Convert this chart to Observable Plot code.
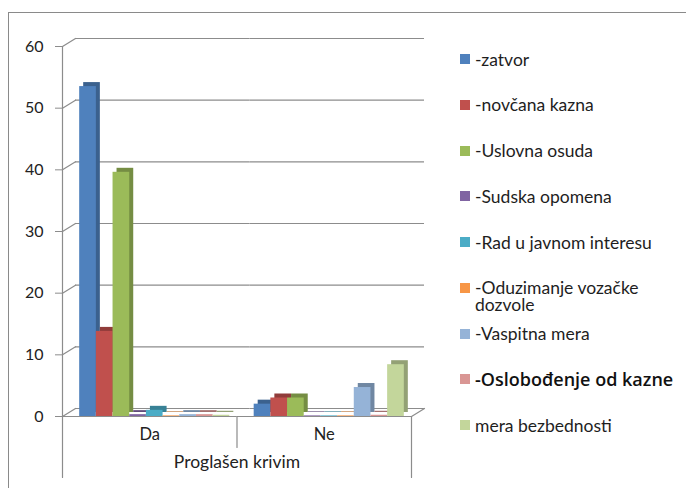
<!DOCTYPE html>
<html><head><meta charset="utf-8">
<script src="https://cdn.jsdelivr.net/npm/d3@7"></script>
<script src="https://cdn.jsdelivr.net/npm/@observablehq/plot@0.6"></script>
<style>
body{margin:0;background:#fff;font-family:Lato,sans-serif;}
#wrap{position:relative;width:686px;height:488px;overflow:hidden;background:#fff;}
#border{position:absolute;left:8px;top:12px;width:800px;height:600px;border:1px solid #8a8a8a;}
#chart{position:absolute;left:0;top:0;}
#legend{position:absolute;left:460px;top:50.5px;}
.item{height:45.75px;display:flex;align-items:flex-start;font-size:17.5px;line-height:17px;color:#1e1e1e;}
.item .t{max-width:185px;}
.item.special .t{font-family:"Open Sans";font-size:18px;font-weight:600;max-width:none;white-space:nowrap;color:#111;}
.sw{width:10px;height:10px;margin-top:3.5px;margin-right:5px;flex:none}
</style></head><body><div id="wrap"><div id="border"></div><div id="chart"></div><div id="legend"></div></div>
<script>
const categories = ["Da", "Ne"];
const groupLabel = "Proglašen krivim";
const series = ["-zatvor", "-novčana kazna", "-Uslovna osuda", "-Sudska opomena", "-Rad u javnom interesu", "-Oduzimanje vozačke dozvole", "-Vaspitna mera", "-Oslobođenje od kazne", "mera bezbednosti"];
const valuesDa = [53.5, 13.8, 39.6, 0.3, 1, 0.1, 0.3, 0.3, 0.2];
const valuesNe = [2, 3, 3, 0.1, 0.1, 0.1, 4.7, 0.2, 8.4];
const colors = ["#4F81BD", "#C0504D", "#9BBB59", "#8064A2", "#4BACC6", "#F79646", "#95B3D7", "#D99694", "#C3D69B"];
const yTicks = [0, 10, 20, 30, 40, 50, 60];

const valuesByCat = [valuesDa, valuesNe];
const data = [];
categories.forEach((c, ci) => series.forEach((s, si) => data.push({cat: c, s, v: valuesByCat[ci][si], c: colors[si], d: d3.color(colors[si]).darker(0.8).formatHex()})));

const W = 686, H = 488, mL = 62, mR = 275, mT = 46, mB = 72;
const grid = "#8c8c8c";
const depthX = 13, depthY = 8;
const diagLen = Math.hypot(depthX, depthY), diagRot = Math.atan2(depthX, depthY) * 180 / Math.PI;
const first = categories[0], last = categories[categories.length - 1];

const chart = Plot.plot({
  width: W, height: H, marginLeft: mL, marginRight: mR, marginTop: mT, marginBottom: mB,
  style: {fontFamily: "Lato", fontSize: "16px", color: "#222", background: "transparent", overflow: "visible"},
  fx: {domain: categories, padding: 0, round: false, axis: null},
  x: {domain: series, paddingInner: 0, paddingOuter: 0.73, round: false, axis: null},
  y: {domain: [0, 60], axis: null},
  marks: [
    Plot.ruleY(yTicks, {y: d => d, dx: depthX, dy: -depthY, stroke: grid, strokeWidth: 1.2}),
    Plot.vector(yTicks, {y: d => d, fx: yTicks.map(() => first), frameAnchor: "left", length: diagLen, rotate: diagRot, anchor: "start", r: 0, stroke: grid, strokeWidth: 1.2}),
    Plot.vector([0], {fx: [last], y: [0], frameAnchor: "right", length: diagLen, rotate: diagRot, anchor: "start", r: 0, stroke: grid, strokeWidth: 1.2}),
    Plot.vector([0], {fx: [first], frameAnchor: "bottom-left", length: H - mT - mB, rotate: 0, anchor: "start", r: 0, stroke: grid, strokeWidth: 1.2}),
    Plot.ruleY([0], {stroke: grid, strokeWidth: 1.2}),
    Plot.axisY(yTicks, {tickSize: 7, tickPadding: 12, label: null, stroke: grid, fill: "#222"}),
    Plot.barY(data, {fx: "cat", x: "s", y: "v", fill: "d", dx: 9, dy: -4}),
    Plot.barY(data, {fx: "cat", x: "s", y: "v", fill: "c", dx: 5}),
    Plot.vector([0], {fx: [first], frameAnchor: "bottom-left", length: 61, rotate: 180, anchor: "start", r: 0, stroke: grid, strokeWidth: 1.2}),
    Plot.vector([0], {fx: [last], frameAnchor: "bottom-left", length: 31, rotate: 180, anchor: "start", r: 0, stroke: grid, strokeWidth: 1.2}),
    Plot.vector([0], {fx: [last], frameAnchor: "bottom-right", length: 61, rotate: 180, anchor: "start", r: 0, stroke: grid, strokeWidth: 1.2}),
    Plot.text(categories, {fx: d => d, text: d => d, frameAnchor: "bottom", dy: 23, fontSize: 16.5, fill: "#222"}),
    Plot.text([groupLabel], {fx: [last], text: d => d, frameAnchor: "bottom-left", dy: 51, textAnchor: "middle", fontSize: 17.5, fill: "#222"})
  ]
});
document.getElementById("chart").appendChild(chart);

const legend = document.getElementById("legend");
series.forEach((s, i) => {
  const item = document.createElement("div");
  item.className = "item" + (s === "-Oslobođenje od kazne" ? " special" : "");
  const sw = document.createElement("div");
  sw.className = "sw"; sw.style.background = colors[i];
  const t = document.createElement("div");
  t.className = "t"; t.textContent = s;
  item.appendChild(sw); item.appendChild(t);
  legend.appendChild(item);
});
</script></body></html>
